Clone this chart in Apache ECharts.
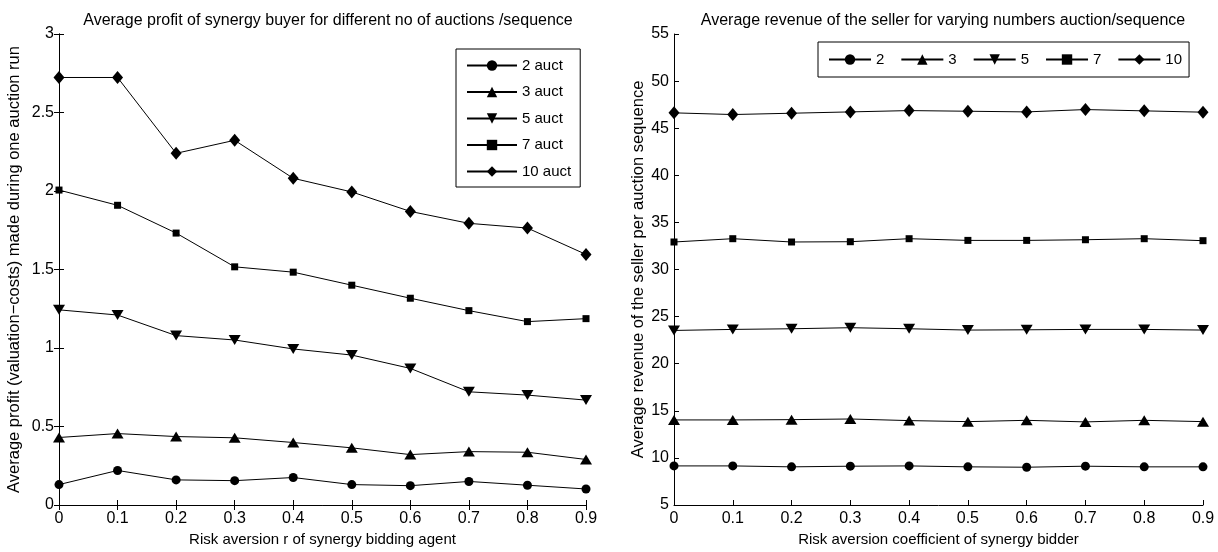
<!DOCTYPE html>
<html>
<head>
<meta charset="utf-8">
<script src="https://cdn.jsdelivr.net/npm/echarts@6/dist/echarts.min.js"></script>
<style>
html,body{margin:0;padding:0;background:#fff;}
#c{width:1218px;height:552px;}
</style>
</head>
<body>
<div id="c"></div>
<script>
// ---- data ----
const riskX = [0, 0.1, 0.2, 0.3, 0.4, 0.5, 0.6, 0.7, 0.8, 0.9];

const profitNames = ['2 auct', '3 auct', '5 auct', '7 auct', '10 auct'];
const profit2  = [0.13, 0.22, 0.16, 0.155, 0.175, 0.13, 0.123, 0.15, 0.126, 0.102];
const profit3  = [0.43, 0.455, 0.436, 0.428, 0.398, 0.364, 0.321, 0.34, 0.336, 0.29];
const profit5  = [1.243, 1.21, 1.079, 1.051, 0.994, 0.955, 0.870, 0.721, 0.70, 0.668];
const profit7  = [2.006, 1.909, 1.732, 1.517, 1.483, 1.40, 1.317, 1.238, 1.168, 1.187];
const profit10 = [2.723, 2.723, 2.24, 2.323, 2.081, 1.994, 1.87, 1.794, 1.764, 1.596];

const revenueNames = ['2', '3', '5', '7', '10'];
const revenue2  = [9.15, 9.15, 9.05, 9.12, 9.15, 9.05, 9.01, 9.12, 9.05, 9.05];
const revenue3  = [14.03, 14.03, 14.06, 14.13, 13.96, 13.85, 13.99, 13.82, 13.99, 13.85];
const revenue5  = [23.53, 23.64, 23.71, 23.82, 23.71, 23.57, 23.6, 23.64, 23.64, 23.57];
const revenue7  = [32.92, 33.27, 32.92, 32.95, 33.27, 33.09, 33.09, 33.16, 33.27, 33.06];
const revenue10 = [46.63, 46.45, 46.59, 46.73, 46.87, 46.8, 46.73, 46.98, 46.84, 46.7];

const leftTitle = 'Average profit of synergy buyer for different no of auctions /sequence';
const rightTitle = 'Average revenue of the seller for varying numbers auction/sequence';
const leftXName = 'Risk aversion r of synergy bidding agent';
const leftYName = 'Average profit (valuation\u2212costs) made during one auction run';
const rightXName = 'Risk aversion coefficient of synergy bidder';
const rightYName = 'Average revenue of the seller per auction sequence';

// ---- styling ----
const FONT = "'Liberation Sans', Arial, Helvetica, sans-serif";
const FS_TITLE = 16;
const FS_TICK = 16;
const FS_XNAME = 15;
const FS_YNAME = 16.5;
const FS_LEG = 15;
const downTri = 'path://M0,0 L10,0 L5,9 Z';
const symbols = [
  {symbol: 'circle', size: 9},
  {symbol: 'triangle', size: [12, 10]},
  {symbol: downTri, size: [12, 10]},
  {symbol: 'rect', size: 7},
  {symbol: 'diamond', size: [11, 13]}
];

function pairs(arr) { return riskX.map((x, i) => [x, arr[i]]); }

function makeSeries(names, arrs, xi, yi) {
  return names.map((n, k) => ({
    name: n,
    type: 'line',
    xAxisIndex: xi,
    yAxisIndex: yi,
    data: pairs(arrs[k]),
    symbol: symbols[k].symbol,
    symbolSize: symbols[k].size,
    showAllSymbol: true,
    lineStyle: {color: '#000', width: 1},
    itemStyle: {color: '#000'},
    emphasis: {disabled: true},
    animation: false
  }));
}

const axisLine = {show: true, lineStyle: {color: '#000', width: 1}};
const axisTick = {show: true, inside: true, length: 5, lineStyle: {color: '#000'}};
const labelStyle = {color: '#000', fontSize: FS_TICK, fontFamily: FONT};

function xMain(gi, name) {
  return {
    type: 'value', gridIndex: gi, min: 0, max: 0.9, interval: 0.1,
    axisLine: axisLine, axisTick: axisTick, splitLine: {show: false},
    axisLabel: Object.assign({margin: 6, formatter: v => String(Math.round(v * 10) / 10)}, labelStyle),
    name: name, nameLocation: 'middle', nameGap: 26,
    nameTextStyle: {color: '#000', fontSize: FS_XNAME, fontFamily: FONT}
  };
}
function yMain(gi, name, min, max, interval, gap) {
  return {
    type: 'value', gridIndex: gi, min: min, max: max, interval: interval,
    axisLine: axisLine, axisTick: axisTick, splitLine: {show: false},
    axisLabel: Object.assign({margin: 5}, labelStyle),
    name: name, nameLocation: 'middle', nameGap: gap,
    nameTextStyle: {color: '#000', fontSize: FS_YNAME, fontFamily: FONT}
  };
}

const option = {
  backgroundColor: '#fff',
  animation: false,
  title: [
    {text: leftTitle, left: 323, top: 8, textAlign: 'center',
     textStyle: {color: '#000', fontSize: FS_TITLE, fontWeight: 'normal', fontFamily: FONT}},
    {text: rightTitle, left: 938, top: 8, textAlign: 'center',
     textStyle: {color: '#000', fontSize: FS_TITLE, fontWeight: 'normal', fontFamily: FONT}}
  ],
  grid: [
    {left: 59, right: 632, top: 34, bottom: 47},
    {left: 674, right: 15, top: 34, bottom: 47}
  ],
  legend: [
    {
      data: profitNames, orient: 'vertical', left: 456, top: 49,
      itemWidth: 50, itemHeight: 13, itemGap: 11.5,
      padding: [9, 9, 8, 10],
      borderColor: '#000', borderWidth: 1, backgroundColor: '#fff',
      textStyle: {color: '#000', fontSize: FS_LEG, fontFamily: FONT},
      selectedMode: false
    },
    {
      data: revenueNames, orient: 'horizontal', left: 818, top: 42,
      itemWidth: 42, itemHeight: 13, itemGap: 16,
      padding: [10, 7, 10, 10],
      borderColor: '#000', borderWidth: 1, backgroundColor: '#fff',
      textStyle: {color: '#000', fontSize: FS_LEG, fontFamily: FONT},
      selectedMode: false
    }
  ],
  xAxis: [
    xMain(0, leftXName),
    {type: 'value', gridIndex: 0, position: 'top', min: 0, max: 0.9, interval: 0.1,
     axisLine: axisLine, axisTick: axisTick, axisLabel: {show: false}, splitLine: {show: false}},
    xMain(1, rightXName)
  ],
  yAxis: [
    yMain(0, leftYName, 0, 3, 0.5, 36),
    {type: 'value', gridIndex: 0, position: 'right', min: 0, max: 3, interval: 0.5,
     axisLine: axisLine, axisTick: axisTick, axisLabel: {show: false}, splitLine: {show: false}},
    yMain(1, rightYName, 5, 55, 5, 27)
  ],
  series: [].concat(
    makeSeries(profitNames, [profit2, profit3, profit5, profit7, profit10], 0, 0),
    makeSeries(revenueNames, [revenue2, revenue3, revenue5, revenue7, revenue10], 2, 2)
  )
};

const chart = echarts.init(document.getElementById('c'), null, {renderer: 'canvas'});
chart.setOption(option);
</script>
</body>
</html>
